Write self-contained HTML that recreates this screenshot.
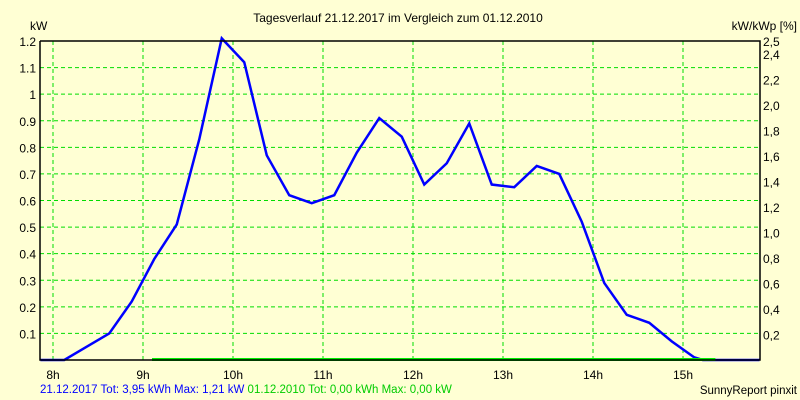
<!DOCTYPE html>
<html><head><meta charset="utf-8"><style>
body{margin:0;background:#ffffd4;}
svg{display:block;font-family:"Liberation Sans",sans-serif;font-size:12px;}
</style></head><body>
<svg id="c" width="800" height="400">
<rect width="800" height="400" fill="#ffffd4"/>
<text x="398" y="22" text-anchor="middle">Tagesverlauf 21.12.2017 im Vergleich zum 01.12.2010</text>
<text x="30" y="30">kW</text>
<text x="797" y="30" text-anchor="end">kW/kWp [%]</text>
<g id="grid"></g><g id="series"></g><g id="axes"></g>
<text x="40" y="393" font-size="11.5"><tspan fill="#0000ff">21.12.2017 Tot: 3,95 kWh Max: 1,21 kW</tspan><tspan fill="#00cc00"> 01.12.2010 Tot: 0,00 kWh Max: 0,00 kW</tspan></text>
<text x="797" y="394" text-anchor="end" font-size="11.5">SunnyReport pinxit</text>
</svg>
<script>
const times=[7.86,8.125,8.375,8.625,8.875,9.125,9.375,9.625,9.875,10.125,10.375,10.625,10.875,11.125,11.375,11.625,11.875,12.125,12.375,12.625,12.875,13.125,13.375,13.625,13.875,14.125,14.375,14.625,14.875,15.125,15.22,15.85];
const values2017=[0,0,0.05,0.1,0.22,0.38,0.51,0.83,1.21,1.12,0.77,0.62,0.59,0.62,0.78,0.91,0.84,0.66,0.74,0.89,0.66,0.65,0.73,0.70,0.52,0.29,0.17,0.14,0.07,0.01,0,0];
const times2010=[9.1,15.36];
const values2010=[0,0];
const leftTicks=[0.1,0.2,0.3,0.4,0.5,0.6,0.7,0.8,0.9,1,1.1,1.2];
const rightTicks=[0.2,0.4,0.6,0.8,1.0,1.2,1.4,1.6,1.8,2.0,2.2,2.4,2.5];
const hourTicks=[8,9,10,11,12,13,14,15];
const L=40,R=760,T=41,B=360;
const xs=t=>53+90*(t-8);
const ys=v=>B-(B-T)*v/1.2;
const yr=v=>B-(B-T)*v/2.5;
const NS="http://www.w3.org/2000/svg";
function mk(tag,attrs,parent){const e=document.createElementNS(NS,tag);for(const k in attrs)e.setAttribute(k,attrs[k]);parent.appendChild(e);return e;}
const grid=document.getElementById('grid'),axes=document.getElementById('axes'),ser=document.getElementById('series');
leftTicks.forEach(v=>{
 const l=mk('line',{x1:L,x2:R,y1:ys(v),y2:ys(v),stroke:'#00dd00','stroke-dasharray':'4,3'},grid);
 
 
 const t=mk('text',{x:L-4,y:ys(v)+5,'text-anchor':'end'},axes);t.textContent=String(v);
 
 
});
hourTicks.forEach(h=>{
 const l=mk('line',{x1:xs(h),x2:xs(h),y1:T,y2:B,stroke:'#00dd00','stroke-dasharray':'4,3'},grid);
 
 
 const t=mk('text',{x:xs(h),y:379,'text-anchor':'middle'},axes);t.textContent=h+'h';
 
 
});
rightTicks.forEach(v=>{
 const t=mk('text',{x:R+3,y:yr(v)+5},axes);t.textContent=v.toFixed(1).replace('.',',');
 
 
});
const ax=mk('path',{d:`M${L},${T}V${B}H${R}V${T}H${L}`,fill:'none',stroke:'#000','stroke-width':1.5},axes);


const p1=mk('polyline',{points:times.map((t,i)=>xs(t)+','+ys(values2017[i])).join(' '),fill:'none',stroke:'#0000ff','stroke-width':2.5},ser);


const p2=mk('polyline',{points:times2010.map((t,i)=>xs(t)+','+(ys(values2010[i])-0.5)).join(' '),fill:'none',stroke:'#00ee00','stroke-width':3},ser);


</script>
</body></html>
